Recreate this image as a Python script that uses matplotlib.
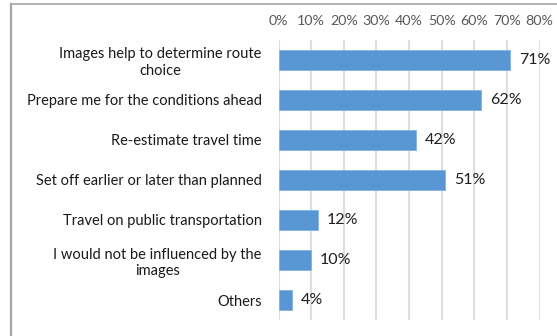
import matplotlib.pyplot as plt
from matplotlib.lines import Line2D
from matplotlib.ticker import FuncFormatter

# survey answers and share of respondents
categories = [
    "Images help to determine route\nchoice",
    "Prepare me for the conditions ahead",
    "Re-estimate travel time",
    "Set off earlier or later than planned",
    "Travel on public transportation",
    "I would not be influenced by the\nimages",
    "Others",
]
shares = [0.71, 0.62, 0.42, 0.51, 0.12, 0.10, 0.04]
ticks = [0, 0.1, 0.2, 0.3, 0.4, 0.5, 0.6, 0.7, 0.8]

plt.rcParams['font.family'] = ['Lato', 'DejaVu Sans']

fig = plt.figure(figsize=(5.57, 3.36), dpi=100)
ax = fig.add_axes([0.5, 0.0476, 0.4687, 0.8334])

pos = list(range(len(categories)))
ax.barh(pos, shares, height=0.5, color='#5896d4', edgecolor='#80b3e2', linewidth=0.6, zorder=3)

for y, v in zip(pos, shares):
    ax.text(v + 0.027, y, f"{round(v * 100)}%", va='center', ha='left',
            fontsize=11.5, color='#1f1f1f')

ax.set_xlim(0, 0.8)
ax.set_ylim(len(categories) - 0.5, -0.5)
ax.set_xticks(ticks)
ax.xaxis.set_major_formatter(FuncFormatter(lambda x, _: f"{round(x * 100)}%"))
ax.xaxis.tick_top()
ax.tick_params(axis='x', length=0, pad=9, labelsize=10.3, labelcolor='#595959')
ax.set_yticks(pos)
ax.set_yticklabels(categories, fontsize=10.5, color='#1a1a1a',
                   multialignment='center', linespacing=1.25)
ax.tick_params(axis='y', length=0, pad=12)
ax.grid(axis='x', color='#d9dee8', linewidth=1.5, zorder=0)
for s in ax.spines.values():
    s.set_visible(False)

# frame edges
fig.add_artist(Line2D([0.0205, 0.0205], [0, 0.988], color='#a6a6a6', linewidth=1.6))
fig.add_artist(Line2D([0.0205, 1.0], [0.988, 0.988], color='#a6a6a6', linewidth=1.2))

fig.savefig('out.png', dpi=100)
